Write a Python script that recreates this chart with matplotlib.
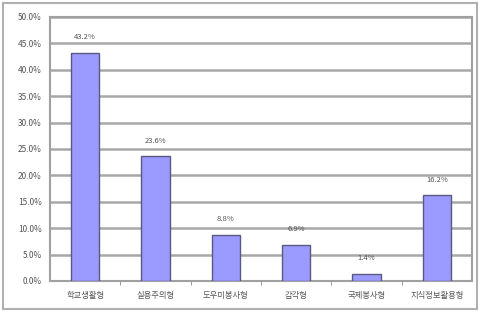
import matplotlib.pyplot as plt
from matplotlib.patches import Rectangle
from matplotlib.ticker import FuncFormatter, MultipleLocator

plt.rcParams['font.family'] = ['Noto Sans CJK KR', 'DejaVu Sans']

categories = ["학교생활형", "실용주의형", "도우미봉사형", "감각형", "국제봉사형", "지식정보활용형"]
values = [43.2, 23.6, 8.8, 6.9, 1.4, 16.2]
labels = ["43.2%", "23.6%", "8.8%", "6.9%", "1.4%", "16.2%"]


def main():
    fig = plt.figure(figsize=(4.8, 3.14), dpi=100)
    fig.patches.append(Rectangle((0.006, 0.016), 0.988, 0.975, transform=fig.transFigure,
                                 fill=False, edgecolor="#b0b0b0", linewidth=1.5))
    ax = fig.add_axes([50 / 480, 1 - 281 / 314, 422 / 480, 264 / 314])

    x = range(len(categories))
    ax.bar(x, values, width=0.4, color="#9a9aff", edgecolor="#5a5a80", linewidth=1.0, zorder=3)
    for i, (v, t) in enumerate(zip(values, labels)):
        ax.text(i, v + 2.2, t, ha="center", va="bottom", fontsize=5.5, color="#555555")

    ax.set_xlim(-0.5, len(categories) - 0.5)
    ax.set_ylim(0, 50)
    ax.yaxis.set_major_locator(MultipleLocator(5))
    ax.yaxis.set_major_formatter(FuncFormatter(lambda v, p: f"{v:.1f}%"))
    ax.grid(axis="y", color="#a8a8a8", linewidth=1.8, zorder=0)
    ax.set_xticks(list(x))
    ax.set_xticklabels(categories, fontsize=6, color="#555555")
    ax.set_xticks([i + 0.5 for i in range(len(categories) - 1)], minor=True)
    ax.tick_params(axis="x", which="major", length=0, pad=7)
    ax.tick_params(axis="x", which="minor", length=3, color="#888888")
    ax.tick_params(axis="y", length=0, labelsize=6, labelcolor="#555555", pad=6)
    for s in ax.spines.values():
        s.set_color("#a0a0a0")
        s.set_linewidth(1.5)

    fig.savefig("out.png", dpi=100)


if __name__ == "__main__":
    main()
